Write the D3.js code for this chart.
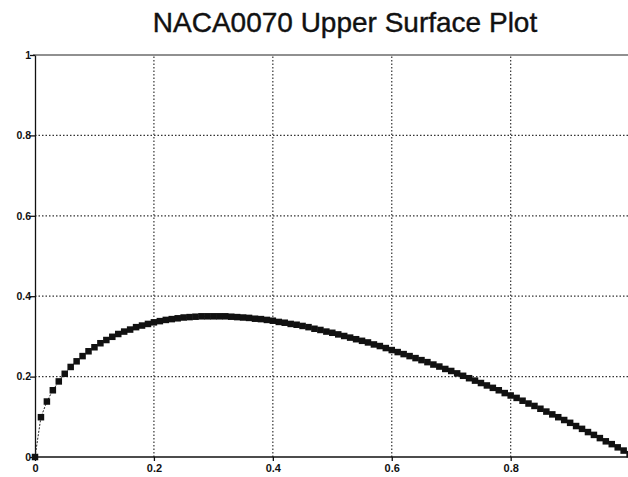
<!DOCTYPE html>
<html>
<head>
<meta charset="utf-8">
<script src="https://cdn.jsdelivr.net/npm/d3@7"></script>
<style>
  html, body { margin: 0; padding: 0; background: #fff; }
  svg { display: block; }
</style>
</head>
<body>
<svg id="chart" width="628" height="477"></svg>
<script>
const title = "NACA0070 Upper Surface Plot";
const xTicks = [0, 0.2, 0.4, 0.6, 0.8];
const xTickLabels = ["0", "0.2", "0.4", "0.6", "0.8"];
const yTicks = [0, 0.2, 0.4, 0.6, 0.8, 1];
const yTickLabels = ["0", "0.2", "0.4", "0.6", "0.8", "1"];

const xValues = [0.00,0.01,0.02,0.03,0.04,0.05,0.06,0.07,0.08,0.09,
  0.10,0.11,0.12,0.13,0.14,0.15,0.16,0.17,0.18,0.19,
  0.20,0.21,0.22,0.23,0.24,0.25,0.26,0.27,0.28,0.29,
  0.30,0.31,0.32,0.33,0.34,0.35,0.36,0.37,0.38,0.39,
  0.40,0.41,0.42,0.43,0.44,0.45,0.46,0.47,0.48,0.49,
  0.50,0.51,0.52,0.53,0.54,0.55,0.56,0.57,0.58,0.59,
  0.60,0.61,0.62,0.63,0.64,0.65,0.66,0.67,0.68,0.69,
  0.70,0.71,0.72,0.73,0.74,0.75,0.76,0.77,0.78,0.79,
  0.80,0.81,0.82,0.83,0.84,0.85,0.86,0.87,0.88,0.89,
  0.90,0.91,0.92,0.93,0.94,0.95,0.96,0.97,0.98,0.99,1.00];
const yValues = [0.000,0.099,0.138,0.166,0.188,0.207,0.224,0.238,0.251,0.263,
  0.273,0.283,0.291,0.299,0.306,0.312,0.317,0.323,0.327,0.331,
  0.335,0.338,0.341,0.343,0.345,0.347,0.348,0.349,0.350,0.350,
  0.350,0.350,0.350,0.349,0.348,0.347,0.346,0.344,0.343,0.341,
  0.339,0.336,0.334,0.331,0.329,0.326,0.323,0.319,0.316,0.312,
  0.309,0.305,0.301,0.297,0.293,0.289,0.285,0.280,0.276,0.271,
  0.266,0.261,0.256,0.251,0.246,0.241,0.236,0.230,0.225,0.219,
  0.214,0.208,0.202,0.196,0.190,0.184,0.178,0.172,0.166,0.159,
  0.153,0.147,0.140,0.133,0.127,0.120,0.113,0.106,0.099,0.092,
  0.085,0.077,0.070,0.062,0.055,0.047,0.039,0.032,0.024,0.016,0.007];

const svg = d3.select("#chart");
const W = 628, H = 477;
const mLeft = 35, mRight = 629.6, mTop = 55, mBottom = 457;

const x = d3.scaleLinear().domain([0, 1]).range([mLeft, mRight]);
const y = d3.scaleLinear().domain([0, 1]).range([mBottom, mTop]);

// Title
svg.append("text")
  .attr("x", 345).attr("y", 32)
  .attr("text-anchor", "middle")
  .attr("font-family", "Liberation Sans, Arial, sans-serif")
  .attr("font-size", 28)
  .attr("stroke", "#111").attr("stroke-width", 0.4)
  .attr("fill", "#111")
  .text(title);

// Grid lines (dotted)
const grid = svg.append("g");
grid.selectAll("line.vx").data(xTicks.filter(d => d > 0)).enter().append("line")
  .attr("x1", d => x(d)).attr("x2", d => x(d))
  .attr("y1", y(0)).attr("y2", y(1))
  .attr("stroke", "#333").attr("stroke-width", 1.2)
  .attr("stroke-dasharray", "1.5,2");
grid.selectAll("line.hy").data(yTicks.filter(d => d > 0 && d < 1)).enter().append("line")
  .attr("x1", x(0)).attr("x2", W)
  .attr("y1", d => y(d)).attr("y2", d => y(d))
  .attr("stroke", "#333").attr("stroke-width", 1.2)
  .attr("stroke-dasharray", "1.5,2");

// Top frame line
svg.append("line")
  .attr("x1", x(0) - 2).attr("x2", W)
  .attr("y1", y(1)).attr("y2", y(1))
  .attr("stroke", "#222").attr("stroke-width", 1.2);

// Axes
const xAxis = d3.axisBottom(x)
  .tickValues(xTicks)
  .tickFormat((d, i) => xTickLabels[i])
  .tickSize(4).tickSizeOuter(0);
const gx = svg.append("g").attr("transform", `translate(0,${mBottom})`).call(xAxis);
gx.select(".domain").attr("d", `M${x(0)},0H${W}`).attr("stroke", "#111").attr("stroke-width", 1.3);
gx.selectAll(".tick line").attr("stroke", "#111").attr("stroke-width", 1.3);
gx.selectAll(".tick text")
  .attr("font-family", "Liberation Sans, Arial, sans-serif")
  .attr("font-size", 11).attr("font-weight", "bold").attr("fill", "#111")
  .attr("dy", "0.75em");

const yAxis = d3.axisLeft(y)
  .tickValues(yTicks)
  .tickFormat((d, i) => yTickLabels[i])
  .tickSize(5).tickSizeOuter(0);
const gy = svg.append("g").attr("transform", `translate(${mLeft},0)`).call(yAxis);
gy.select(".domain").attr("stroke", "#111").attr("stroke-width", 1.3);
gy.selectAll(".tick line").attr("stroke", "#111").attr("stroke-width", 1.3);
gy.selectAll(".tick text")
  .attr("font-family", "Liberation Sans, Arial, sans-serif")
  .attr("font-size", 10.5).attr("font-weight", "bold").attr("fill", "#111")
  .attr("x", -4);

// Data line
const data = xValues.map((d, i) => ({ x: d, y: yValues[i] }));
svg.append("path")
  .datum(data)
  .attr("fill", "none")
  .attr("stroke", "#222")
  .attr("stroke-width", 1)
  .attr("stroke-dasharray", "2,1.5")
  .attr("d", d3.line().x(d => x(d.x)).y(d => y(d.y)));

// Square markers
const ms = 6.5;
svg.append("g").selectAll("rect").data(data).enter().append("rect")
  .attr("x", d => x(d.x) - ms / 2)
  .attr("y", d => y(d.y) - ms / 2)
  .attr("width", ms).attr("height", ms)
  .attr("fill", "#111");
</script>
</body>
</html>
